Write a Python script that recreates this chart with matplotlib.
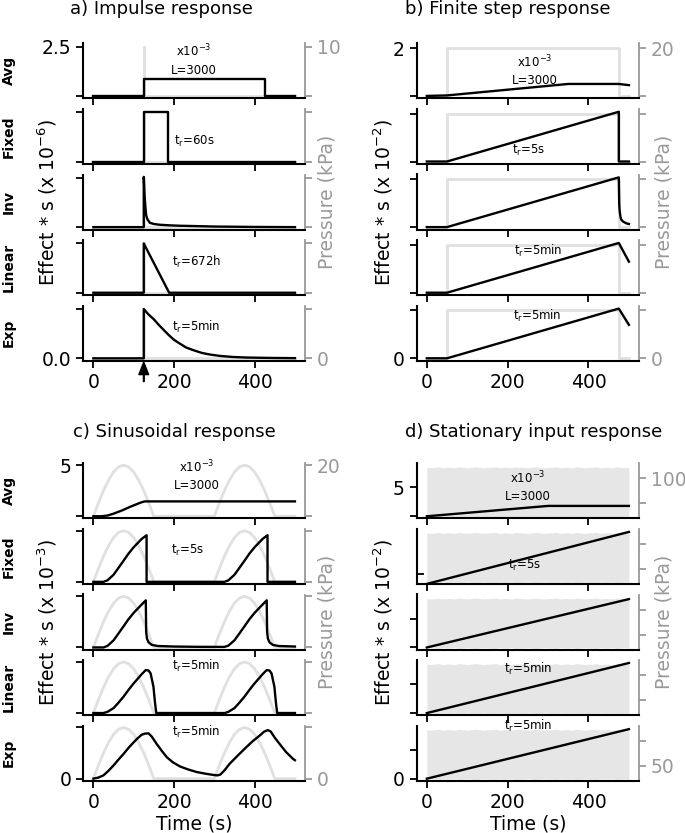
import numpy as np
import matplotlib.pyplot as plt

plt.rcParams['font.family'] = ['DejaVu Sans']
plt.rcParams['font.size'] = 13.5
plt.rcParams['mathtext.default'] = 'regular'

row_names = ['Avg', 'Fixed', 'Inv', 'Linear', 'Exp']
xticks = [0, 200, 400]

# a) impulse response (x 10^-6), pressure in kPa
a_press_t = [0, 125, 125, 125, 500]
a_press = [0, 0, 10, 0, 0]
a_avg_t = [0, 125, 125, 425, 425, 500]
a_avg = [0, 0, 0.85, 0.85, 0, 0]
a_fix_t = [0, 125, 125, 185, 185, 500]
a_fix = [0, 0, 2.5, 2.5, 0, 0]
a_inv_t = [0, 125, 125, 127, 129, 131, 134, 140, 150, 165, 190, 215, 260, 300, 400, 500]
a_inv = [0, 0, 2.55, 1.6, 1.05, 0.6, 0.4, 0.22, 0.16, 0.12, 0.09, 0.07, 0.05, 0.03, 0.01, 0.0]
a_lin_t = [0, 125, 125, 188, 500]
a_lin = [0, 0, 2.5, 0, 0]
a_exp_t = [0, 125, 125, 137, 150, 162, 175, 187, 200, 215, 230, 250, 270, 290, 315, 345, 380, 440, 500]
a_exp = [0, 0, 2.5, 2.22, 1.98, 1.7, 1.43, 1.18, 0.94, 0.74, 0.55, 0.4, 0.27, 0.19, 0.12, 0.07,
         0.04, 0.02, 0.01]

# b) finite step response (x 10^-2)
b_press_t = [0, 50, 50, 475, 475, 500]
b_press = [0, 0, 20, 20, 0, 0]
b_avg_t = [0, 50, 350, 475, 500]
b_avg = [0, 0.02, 0.5, 0.5, 0.45]
b_fix_t = [0, 50, 475, 475, 500]
b_fix = [0, 0, 2.08, 0, 0]
b_inv_t = [0, 50, 475, 476, 477, 479, 481, 485, 490, 495, 500]
b_inv = [0, 0, 2.08, 1.0, 0.7, 0.45, 0.32, 0.24, 0.19, 0.15, 0.13]
b_lin_t = [0, 50, 475, 500]
b_lin = [0, 0, 2.08, 1.3]
b_exp_t = [0, 50, 475, 500]
b_exp = [0, 0, 2.08, 1.4]

# c) sinusoidal response (x 10^-3)
c_press_t = np.arange(0, 512.5, 12.5)
c_press = [0, 5.2, 10, 14.1, 17.3, 19.3, 20, 19.3, 17.3, 14.1, 10, 5.2, 0,
           0, 0, 0, 0, 0, 0, 0, 0, 0, 0, 0,
           0, 5.2, 10, 14.1, 17.3, 19.3, 20, 19.3, 17.3, 14.1, 10, 5.2, 0,
           0, 0, 0, 0]
c_avg_t = [0, 20, 35, 50, 70, 90, 110, 120, 128, 500]
c_avg = [0, 0, 0.07, 0.25, 0.55, 0.9, 1.22, 1.37, 1.45, 1.45]
c_fix_t = [0, 25, 35, 50, 62, 75, 87, 100, 120, 132, 132, 325, 335, 350, 362, 375, 387, 400, 420, 432, 432, 500]
c_fix = [0, 0, 0.15, 0.69, 1.35, 2.07, 2.75, 3.38, 4.2, 4.55, 0, 0, 0.15, 0.69, 1.35, 2.07, 2.75,
         3.38, 4.2, 4.55, 0, 0]
c_inv_t = [0, 25, 35, 50, 62, 75, 87, 100, 120, 130, 131, 133, 137, 145, 160, 200, 260, 325,
           335, 350, 362, 375, 387, 400, 420, 430, 431, 433, 437, 445, 460, 500]
c_inv = [0, 0, 0.15, 0.69, 1.35, 2.07, 2.75, 3.38, 4.2, 4.6, 1.5, 0.86, 0.5, 0.25, 0.14, 0.09, 0.06, 0.05,
         0.18, 0.7, 1.35, 2.07, 2.75, 3.38, 4.2, 4.6, 1.5, 0.86, 0.5, 0.25, 0.14, 0.09]
c_lin_t = [0, 25, 35, 50, 62, 75, 87, 100, 120, 130, 137, 142, 149, 153, 156, 326,
           335, 350, 362, 375, 387, 400, 420, 430, 437, 442, 449, 453, 456, 500]
c_lin = [0, 0, 0.12, 0.48, 1.0, 1.61, 2.25, 2.9, 3.8, 4.2, 4.15, 3.87, 2.58, 0.97, 0, 0,
         0.12, 0.48, 1.0, 1.61, 2.25, 2.9, 3.8, 4.2, 4.15, 3.87, 2.58, 0.97, 0, 0]
c_exp_t = [0, 12, 25, 37, 50, 62, 75, 87, 100, 110, 120, 128, 137, 145, 157, 170, 182, 197, 215,
           235, 256, 280, 300, 308, 315, 325, 338, 358, 379, 395, 412, 424, 433, 440, 450, 462,
           478, 495, 500]
c_exp = [0, 0.1, 0.32, 0.75, 1.29, 1.85, 2.42, 3.0, 3.55, 3.95, 4.29, 4.4, 4.42, 4.1, 3.39, 2.7,
         2.1, 1.6, 1.19, 0.9, 0.65, 0.47, 0.35, 0.32, 0.4, 0.8, 1.45, 2.25, 3.06, 3.65, 4.19,
         4.6, 4.74, 4.6, 4.0, 3.39, 2.6, 1.94, 1.8]

# d) stationary input response (x 10^-2), noisy pressure drawn as its envelope
d_press_t = np.arange(0, 510, 10)
d_press_hi = [122, 121, 122, 123, 121, 122, 122, 121, 123, 122, 121, 122, 123, 122, 121, 122, 122,
              123, 121, 122, 122, 121, 123, 122, 122, 121, 122, 123, 122, 121, 122, 122, 123, 121,
              122, 122, 121, 123, 122, 121, 122, 122, 123, 121, 122, 122, 121, 123, 122, 121, 122]
d_press_lo = [23, 24, 23, 22, 24, 23, 23, 24, 22, 23, 24, 23, 22, 23, 24, 23, 23,
              22, 24, 23, 23, 24, 22, 23, 23, 24, 23, 22, 23, 24, 23, 23, 22, 24,
              23, 23, 24, 22, 23, 24, 23, 23, 22, 24, 23, 23, 24, 22, 23, 24, 23]
d_avg_t = [0, 300, 500]
d_avg = [0, 1.8, 1.8]
d_fix_t = [0, 500]
d_fix = [0, 8.6]
d_inv_t = [0, 500]
d_inv = [0, 8.4]
d_lin_t = [0, 500]
d_lin = [0, 8.7]
d_exp_t = [0, 500]
d_exp = [0, 8.6]

W, H = 685, 833
ROW_H, PITCH = 55, 65.6
GREY = '0.6'
LIGHT = '0.88'

fig = plt.figure(figsize=(W / 100, H / 100), dpi=100)


def draw_panel(left, top, width, curves, ylim, yticks, ylab, press, plim, pticks, plab,
               notes, effect, effect_x, press_x, row_labels, time_label):
    axes = []
    for i, (t, v) in enumerate(curves):
        ax = fig.add_axes([left / W, 1 - (top + i * PITCH + ROW_H) / H, width / W, ROW_H / H])
        tw = ax.twinx()
        ax.set_zorder(tw.get_zorder() + 1)
        ax.patch.set_visible(False)

        if len(press) == 2:
            tw.plot(press[0], press[1], color=LIGHT, lw=2)
        else:
            tw.fill_between(press[0], press[1], press[2], color='0.9', lw=0)
        ax.plot(t, v, color='k', lw=1.7)

        ax.set_xlim(-25, 525)
        ax.set_ylim(*ylim)
        tw.set_ylim(*plim)
        ax.set_xticks(xticks)
        ax.set_yticks(yticks)
        tw.set_yticks(pticks)

        if i == 0:
            ax.set_yticklabels(['', ylab[1]])
            tw.set_yticklabels(['', plab[1]])
        elif i == 4:
            ax.set_yticklabels([ylab[0], ''])
            tw.set_yticklabels([plab[0], ''])
        else:
            ax.set_yticklabels(['', ''])
            tw.set_yticklabels(['', ''])
        if i < 4:
            ax.set_xticklabels([])
        elif time_label:
            ax.set_xlabel('Time (s)', labelpad=2)

        for s in ['top', 'right']:
            ax.spines[s].set_visible(False)
        for s in ['top', 'left', 'bottom']:
            tw.spines[s].set_visible(False)
        ax.spines['left'].set_linewidth(1.5)
        ax.spines['bottom'].set_linewidth(1.5)
        tw.spines['right'].set_color(GREY)
        tw.spines['right'].set_linewidth(1.3)
        ax.tick_params(length=5, width=1.3)
        tw.tick_params(length=5, width=1.3, colors=GREY)

        if row_labels:
            yc = top + i * PITCH + ROW_H / 2
            fig.text(9 / W, 1 - yc / H, row_names[i], rotation=90, ha='center',
                     va='center', fontsize=10, fontweight='bold')
        axes.append(ax)

    for i, txt, x, y in notes:
        axes[i].text(x, y, txt, transform=axes[i].transAxes, ha='center', va='center',
                     fontsize=8.5, linespacing=1.4)

    yc = top + (4 * PITCH + ROW_H) / 2
    fig.text(effect_x / W, 1 - yc / H, effect, rotation=90, ha='center', va='center')
    fig.text(press_x / W, 1 - yc / H, 'Pressure (kPa)', rotation=90, ha='center',
             va='center', color=GREY)
    return axes


avg_note = 'x10$^{-3}$\nL=3000'

axes_a = draw_panel(83.3, 43.3, 221.7,
                    [(a_avg_t, a_avg), (a_fix_t, a_fix), (a_inv_t, a_inv),
                     (a_lin_t, a_lin), (a_exp_t, a_exp)],
                    (-0.12, 2.67), [0, 2.5], ('0.0', '2.5'),
                    (a_press_t, a_press), (-0.48, 10.68), [0, 10], ('0', '10'),
                    [(0, avg_note, 0.5, 0.7), (1, 't$_r$=60s', 0.5, 0.4),
                     (3, 't$_r$=672h', 0.51, 0.61), (4, 't$_r$=5min', 0.51, 0.61)],
                    'Effect * s (x 10$^{-6}$)', 47, 327, True, False)
axes_a[4].annotate('', xy=(125, -0.025), xycoords=('data', 'axes fraction'),
                   xytext=(125, -0.38), textcoords=('data', 'axes fraction'),
                   arrowprops=dict(facecolor='k', edgecolor='k', width=0.5,
                                   headwidth=7, headlength=9, shrink=0),
                   annotation_clip=False)

draw_panel(416.7, 43.3, 222.3,
           [(b_avg_t, b_avg), (b_fix_t, b_fix), (b_inv_t, b_inv),
            (b_lin_t, b_lin), (b_exp_t, b_exp)],
           (-0.1, 2.2), [0, 2], ('0', '2'),
           (b_press_t, b_press), (-1.0, 22.0), [0, 20], ('0', '20'),
           [(0, avg_note, 0.53, 0.51), (1, 't$_r$=5s', 0.505, 0.25),
            (3, 't$_r$=5min', 0.545, 0.8), (4, 't$_r$=5min', 0.54, 0.82)],
           'Effect * s (x 10$^{-2}$)', 383, 664, False, False)

draw_panel(83.3, 463.3, 221.7,
           [(c_avg_t, c_avg), (c_fix_t, c_fix), (c_inv_t, c_inv),
            (c_lin_t, c_lin), (c_exp_t, c_exp)],
           (-0.2, 5.17), [0, 5], ('0', '5'),
           (c_press_t, c_press), (-0.8, 20.7), [0, 20], ('0', '20'),
           [(0, avg_note, 0.51, 0.78), (1, 't$_r$=5s', 0.47, 0.61),
            (3, 't$_r$=5min', 0.51, 0.9), (4, 't$_r$=5min', 0.51, 0.89)],
           'Effect * s (x 10$^{-3}$)', 47, 327, True, True)

axes_d = draw_panel(416.7, 463.3, 222.3,
                    [(d_avg_t, d_avg), (d_fix_t, d_fix), (d_inv_t, d_inv),
                     (d_lin_t, d_lin), (d_exp_t, d_exp)],
                    (-0.35, 9.2), [0, 5], ('0', '5'),
                    (d_press_t, d_press_lo, d_press_hi), (20, 130), [50, 100], ('50', '100'),
                    [(0, avg_note, 0.5, 0.58), (1, 't$_r$=5s', 0.485, 0.33),
                     (3, 't$_r$=5min', 0.5, 0.84), (4, 't$_r$=5min', 0.5, 0.99)],
                    'Effect * s (x 10$^{-2}$)', 383, 664, False, True)
axes_d[1].set_ylim(0, 9.1)
axes_d[1].set_yticks([1.6])
axes_d[1].set_yticklabels([''])
axes_d[1].tick_params(axis='y', direction='in', length=5)

fig.text(70 / W, 1 - 9 / H, 'a) Impulse response', ha='left', va='center', fontsize=13)
fig.text(405 / W, 1 - 9 / H, 'b) Finite step response', ha='left', va='center', fontsize=13)
fig.text(73 / W, 1 - 432 / H, 'c) Sinusoidal response', ha='left', va='center', fontsize=13)
fig.text(405 / W, 1 - 432 / H, 'd) Stationary input response', ha='left', va='center', fontsize=13)

fig.savefig('out.png', dpi=100)
